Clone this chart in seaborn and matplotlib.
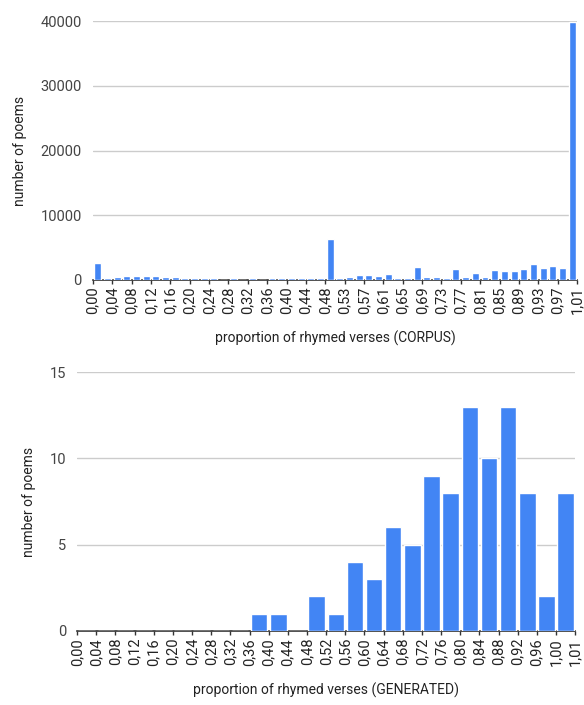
import pandas as pd
import numpy as np
import matplotlib.pyplot as plt
import seaborn as sns

sns.set_theme(style="white")
plt.rcParams['font.family'] = ['Roboto', 'DejaVu Sans']

BLUE = '#4285F4'

# corpus histogram: 50 bins of width 0.0202 over 0..1.01
corpus_counts = [2600, 250, 380, 570, 570, 570, 570, 380, 380, 250,
                 250, 250, 250, 0, 250, 0, 250, 0, 250, 250,
                 250, 250, 250, 250, 6300, 250, 520, 720, 720, 570,
                 880, 250, 250, 2000, 380, 380, 250, 1650, 380, 1030,
                 520, 1500, 1300, 1300, 1650, 2380, 1810, 2220, 1810, 39800]
corpus_ticks = ['0,00', '0,04', '0,08', '0,12', '0,16', '0,20', '0,24', '0,28', '0,32',
                '0,36', '0,40', '0,44', '0,48', '0,53', '0,57', '0,61', '0,65', '0,69',
                '0,73', '0,77', '0,81', '0,85', '0,89', '0,93', '0,97', '1,01']

# generated histogram: 26 bins
gen_counts = [0, 0, 0, 0, 0, 0, 0, 0, 0, 1, 1, 0, 2, 1, 4, 3, 6, 5, 9, 8,
              13, 10, 13, 8, 2, 8]
gen_ticks = ['0,00', '0,04', '0,08', '0,12', '0,16', '0,20', '0,24', '0,28', '0,32',
             '0,36', '0,40', '0,44', '0,48', '0,52', '0,56', '0,60', '0,64', '0,68',
             '0,72', '0,76', '0,80', '0,84', '0,88', '0,92', '0,96', '1,00', '1,01']

fig = plt.figure(figsize=(5.84, 7.05), dpi=100)
ax1 = fig.add_axes([0.159, 0.603, 0.829, 0.367])
ax2 = fig.add_axes([0.132, 0.105, 0.853, 0.367])


def draw(ax, counts, ticks, pos, width, yticks, xlabel):
    df = pd.DataFrame({'bin': np.arange(len(counts)), 'count': counts})
    sns.barplot(data=df, x='bin', y='count', color=BLUE, saturation=1,
                width=width, ax=ax, zorder=5)
    n = len(counts)
    ax.set_xlim(-0.5, n - 0.5)
    ax.set_xticks(pos)
    ax.set_xticklabels(ticks, rotation=90, fontsize=10.5, color='#222222')
    ax.set_yticks(yticks)
    ax.set_yticklabels([str(v) for v in yticks], fontsize=10.5, color='#444444')
    ax.set_ylim(0, yticks[-1])
    ax.grid(axis='y', color='#cccccc', linewidth=1, zorder=0)
    for s in ['top', 'right', 'left']:
        ax.spines[s].set_visible(False)
    ax.spines['bottom'].set_color('#333333')
    ax.spines['bottom'].set_linewidth(1.2)
    ax.spines['bottom'].set_zorder(4)
    ax.tick_params(axis='x', length=3, width=1, color='#333333', pad=2, bottom=True)
    ax.tick_params(axis='y', length=0, pad=8)
    ax.set_xlabel(xlabel, fontsize=10, color='#222222', labelpad=12)
    ax.set_ylabel('number of poems', fontsize=10, color='#222222', labelpad=10)


draw(ax1, corpus_counts, corpus_ticks, np.arange(len(corpus_ticks)) * 2 - 0.5, 0.72,
     [0, 10000, 20000, 30000, 40000], 'proportion of rhymed verses (CORPUS)')
# last label of the generated chart sits at the right edge
draw(ax2, gen_counts, gen_ticks, list(np.arange(26) - 0.5) + [25.5], 0.86,
     [0, 5, 10, 15], 'proportion of rhymed verses (GENERATED)')

fig.savefig('out.png', dpi=100)
